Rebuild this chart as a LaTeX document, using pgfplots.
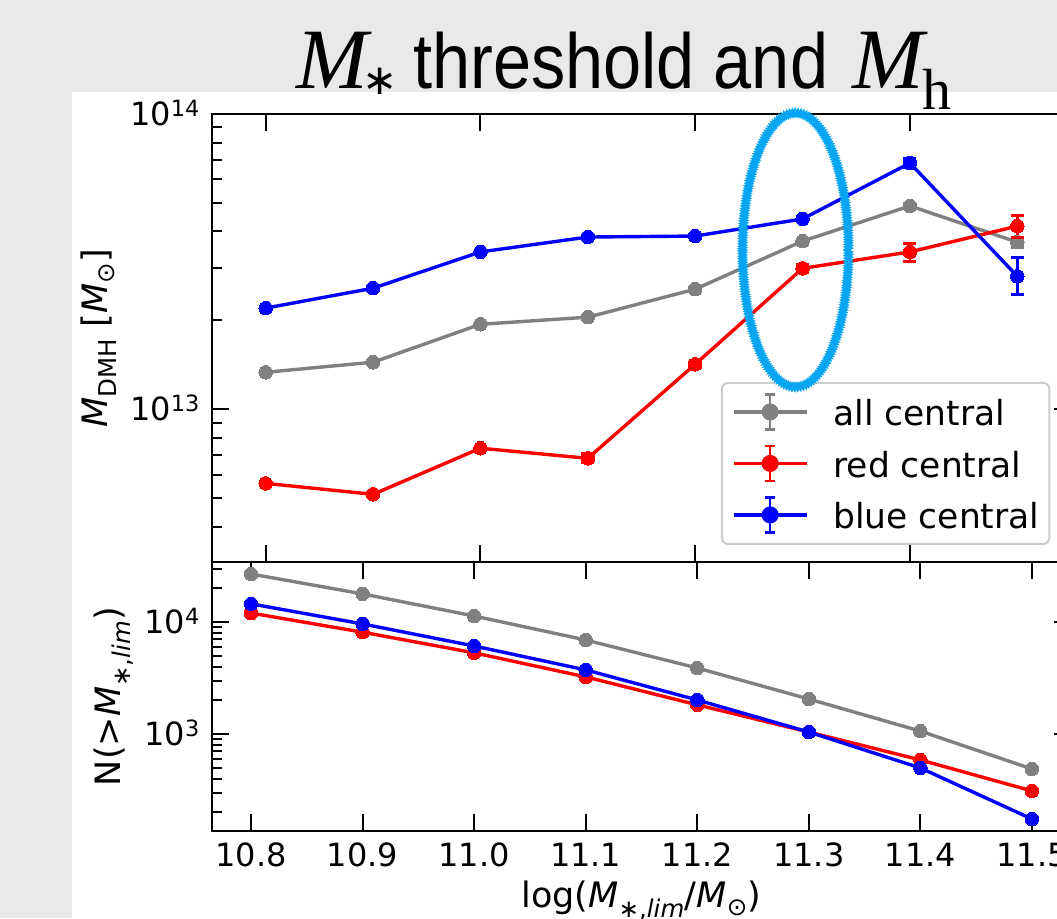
\documentclass[border=0pt]{standalone}
\usepackage{fontspec}
\setmainfont{DejaVu Sans}
\newfontfamily\titlesans{Liberation Sans}
\newfontfamily\titleserif{Liberation Serif}
\usepackage{pgfplots}
\pgfplotsset{compat=1.18}
\usetikzlibrary{decorations.pathmorphing}

\definecolor{bggray}{HTML}{E9E9E9}
\definecolor{ellblue}{HTML}{08A6F2}
\definecolor{mplgray}{HTML}{808080}

\pgfplotsset{
  panel/.style={
    scale only axis, width=859pt, anchor=south west,
    tick align=inside, tick pos=both,
    axis line style={line width=2pt},
    major tick length=17pt, minor tick length=10pt,
    tick style={black, line width=2pt},
    tick label style={font=\fontsize{32}{32}\selectfont},
    xticklabel style={inner sep=0pt, anchor=north, yshift=-12pt},
    yticklabel style={inner sep=0pt, anchor=base east, xshift=-12pt, yshift=-11.6pt},
    label style={font=\fontsize{35}{35}\selectfont},
    every axis plot/.append style={line width=3.4pt, mark=*, mark size=6.8pt,
      mark options={solid, line width=0pt}},
  },
  % vertical error bars with caps, one segment per point, split by nan
  errbar/.style={forget plot, unbounded coords=jump, line width=2.6pt,
    mark=-, mark size=6.5pt, mark options={solid, line width=2.6pt}},
}

\begin{document}
\begin{tikzpicture}
\useasboundingbox (0pt,0pt) rectangle (1057pt,918pt);
\clip (0pt,0pt) rectangle (1057pt,918pt);
\fill[bggray] (0pt,0pt) rectangle (1057pt,918pt);
\fill[white] (72pt,0pt) rectangle (1057pt,826pt);

% top panel: halo mass
\begin{axis}[panel, ymode=log, at={(212pt,356pt)}, height=448pt,
  xmin=10.75, xmax=11.55, ymin=3.04e12, ymax=1e14,
  xtick={10.8,11.0,11.2,11.4}, xticklabels={},
  ytick={1e13,1e14}, yticklabels={10\textsuperscript{13},10\textsuperscript{14}},
  minor ytick={4e12,5e12,6e12,7e12,8e12,9e12,2e13,3e13,4e13,5e13,6e13,7e13,8e13,9e13},
  ylabel={{\itshape M}\textsubscript{DMH} [{\itshape M}\textsubscript{⊙}]},
  ylabel style={at={(axis description cs:-0.1222,0.5)}, anchor=base},
  legend image code/.code={
    \draw[line width=3.4pt] (0pt,0pt) -- (73pt,0pt);
    \draw[line width=2.6pt] (36.5pt,-17.5pt) -- (36.5pt,17.5pt);
    \draw[line width=2.6pt] (31.5pt,-17.5pt) -- (41.5pt,-17.5pt);
    \draw[line width=2.6pt] (31.5pt,17.5pt) -- (41.5pt,17.5pt);
    \fill (36.5pt,0pt) circle (6.8pt);
  },
  legend style={at={(0.5925,0.4018)}, anchor=north west,
    draw=black!20, line width=2pt, rounded corners=6pt, fill=white,
    inner xsep=10pt, inner ysep=5pt, row sep=3.5pt, column sep=25pt,
    font=\fontsize{34.5}{34.5}\selectfont,
    nodes={inner sep=0pt, text height=38pt, text depth=10pt}},
  legend cell align=left,
]
\addplot[color=mplgray, errbar] coordinates {
  (11.4,4.78e13) (11.4,4.98e13) (11.4,nan)
  (11.5,3.53e13) (11.5,3.83e13)
};
\addplot[color=mplgray] coordinates {
  (10.8,1.334e13) (10.9,1.443e13) (11.0,1.94e13) (11.1,2.05e13)
  (11.2,2.55e13) (11.3,3.71e13) (11.4,4.88e13) (11.5,3.68e13)
};
\addplot[color=red, errbar] coordinates {
  (11.1,6.57e12) (11.1,7.07e12) (11.1,nan)
  (11.2,1.38e13) (11.2,1.46e13) (11.2,nan)
  (11.3,2.90e13) (11.3,3.10e13) (11.3,nan)
  (11.4,3.17e13) (11.4,3.65e13) (11.4,nan)
  (11.5,3.82e13) (11.5,4.52e13)
};
\addplot[color=red] coordinates {
  (10.8,5.61e12) (10.9,5.15e12) (11.0,7.38e12) (11.1,6.82e12)
  (11.2,1.42e13) (11.3,3.00e13) (11.4,3.41e13) (11.5,4.17e13)
};
\addplot[color=blue, errbar] coordinates {
  (11.3,4.31e13) (11.3,4.51e13) (11.3,nan)
  (11.4,6.57e13) (11.4,7.07e13) (11.4,nan)
  (11.5,2.45e13) (11.5,3.27e13)
};
\addplot[color=blue] coordinates {
  (10.8,2.20e13) (10.9,2.57e13) (11.0,3.41e13) (11.1,3.83e13)
  (11.2,3.86e13) (11.3,4.41e13) (11.4,6.82e13) (11.5,2.82e13)
};
\legend{all central, red central, blue central}
\end{axis}

% bottom panel: number of galaxies
\begin{axis}[panel, ymode=log, at={(212pt,87pt)}, height=269pt,
  xmin=10.765, xmax=11.535, ymin=136, ymax=3.43e4,
  xtick={10.8,10.9,11.0,11.1,11.2,11.3,11.4,11.5},
  xticklabels={10.8,10.9,11.0,11.1,11.2,11.3,11.4,11.5},
  ytick={1e3,1e4}, yticklabels={10\textsuperscript{3},10\textsuperscript{4}},
  minor ytick={200,300,400,500,600,700,800,900,2000,3000,4000,5000,6000,7000,8000,9000,2e4,3e4},
  xlabel={log({\itshape M}\textsubscript{∗,{\itshape lim}}/{\itshape M}\textsubscript{⊙})},
  xlabel style={at={(axis description cs:0.5,-0.286)}, anchor=base},
  ylabel={N(>{\itshape M}\textsubscript{∗,{\itshape lim}})},
  ylabel style={at={(axis description cs:-0.106,0.5)}, anchor=base},
]
\addplot[color=mplgray] coordinates {
  (10.8,26800) (10.9,17800) (11.0,11300) (11.1,6900)
  (11.2,3880) (11.3,2050) (11.4,1060) (11.5,487)
};
\addplot[color=red] coordinates {
  (10.8,12000) (10.9,8100) (11.0,5300) (11.1,3230)
  (11.2,1820) (11.3,1040) (11.4,586) (11.5,310)
};
\addplot[color=blue] coordinates {
  (10.8,14500) (10.9,9600) (11.0,6100) (11.1,3730)
  (11.2,2010) (11.3,1040) (11.4,497) (11.5,174)
};
\end{axis}

% slide title
\node[anchor=base west, inner sep=0pt, font=\titleserif\itshape\fontsize{86}{86}\selectfont] at (296pt,829pt) {M};
\node[inner sep=0pt, font=\fontsize{42}{42}\selectfont] at (380pt,837pt) {∗};
\node[anchor=base west, inner sep=0pt, font=\titlesans\fontsize{78}{78}\selectfont] at (413pt,829pt) {\scalebox{0.878}[1]{threshold and}};
\node[anchor=base west, inner sep=0pt, font=\titleserif\itshape\fontsize{86}{86}\selectfont] at (852pt,829pt) {M};
\node[anchor=base west, inner sep=0pt, font=\titleserif\fontsize{58}{58}\selectfont] at (922pt,808pt) {h};

% hand drawn ellipse
\draw[ellblue, line width=4pt, decorate, decoration={zigzag, segment length=2.5pt, amplitude=1.2pt}]
  (795.5pt,668pt) ellipse [x radius=53pt, y radius=137pt];
\end{tikzpicture}
\end{document}
